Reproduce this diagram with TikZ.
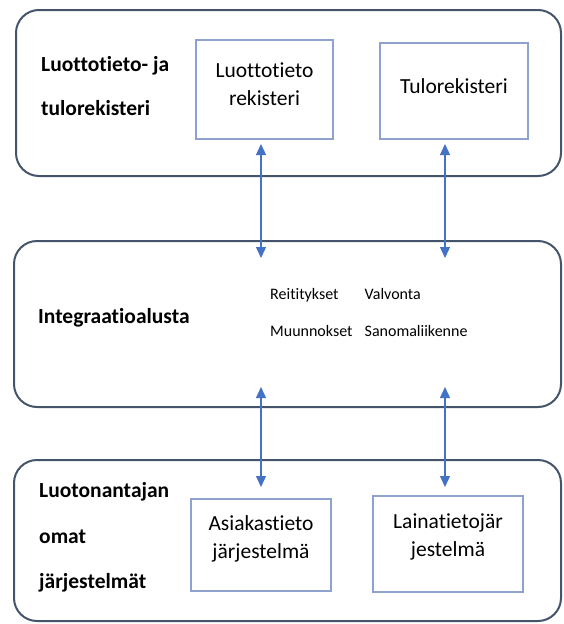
\documentclass[tikz,border=0pt]{standalone}
\usepackage{fontspec}
\setmainfont{Carlito}[Ligatures={NoCommon}]
\usetikzlibrary{arrows.meta}
\definecolor{frame}{HTML}{44546A}
\definecolor{inner}{HTML}{8FA2CF}
\definecolor{link}{HTML}{4472C4}
\tikzset{
  group/.style={draw=frame, line width=2pt, rounded corners=23pt},
  ibox/.style={draw=inner, line width=2pt, inner sep=0pt},
  head/.style={anchor=base west, inner sep=0pt, font=\bfseries\fontsize{21.5}{26}\selectfont},
  boxtext/.style={anchor=base, inner sep=0pt, font=\fontsize{21.5}{26}\selectfont},
  small/.style={anchor=base west, inner sep=0pt, font=\fontsize{16}{19}\selectfont},
  biarrow/.style={draw=link, line width=1.2pt, {Triangle[length=11pt,width=10pt]}-{Triangle[length=11pt,width=10pt]}}
}
\begin{document}
\begin{tikzpicture}[x=1pt, y=-1pt]
  \useasboundingbox (0,0) rectangle (563,624);

  % three layers
  \draw[group] (16,10) rectangle (561,176);
  \draw[group] (14,241) rectangle (561,407);
  \draw[group] (14,460) rectangle (561,621);

  % top layer: registers
  \node[head] (h1a) at (41,71) {Luottotieto- ja};
  \node[head] (h1b) at (41,115) {tulorekisteri};
  \node[ibox, minimum width=137pt, minimum height=99pt] (lr) at (264.5,89.5) {};
  \node[ibox, minimum width=148pt, minimum height=96pt] (tr) at (454,91) {};
  \node[boxtext] (lr1) at (264.5,77) {Luottotieto};
  \node[boxtext] (lr2) at (264.5,105) {rekisteri};
  \node[boxtext] (tr1) at (454,93) {Tulorekisteri};

  % middle layer: integration platform
  \node[head] (h2) at (38,323) {Integraatioalusta};
  \node[small] (s1) at (270,299) {Reititykset};
  \node[small] (s2) at (364.5,299) {Valvonta};
  \node[small] (s3) at (270,336) {Muunnokset};
  \node[small] (s4) at (364.5,336) {Sanomaliikenne};

  % bottom layer: lender's own systems
  \node[head] (h3a) at (39,497) {Luotonantajan};
  \node[head] (h3b) at (39,543) {omat};
  \node[head] (h3c) at (39,588) {järjestelmät};
  \node[ibox, minimum width=140pt, minimum height=92pt] (as) at (261,545) {};
  \node[ibox, minimum width=150pt, minimum height=96pt] (lt) at (448,544) {};
  \node[boxtext] (as1) at (261,530) {Asiakastieto};
  \node[boxtext] (as2) at (261,558) {järjestelmä};
  \node[boxtext] (lt1) at (448,528) {Lainatietojär};
  \node[boxtext] (lt2) at (448,556) {jestelmä};

  % connector end points
  \coordinate (u1) at (261,144);
  \coordinate (m1) at (261,258);
  \coordinate (u2) at (445,144);
  \coordinate (m2) at (445,258);
  \coordinate (m3) at (261,387);
  \coordinate (d1) at (261,487);
  \coordinate (m4) at (445,387);
  \coordinate (d2) at (445,487);

  \draw[biarrow] (u1) -- (m1);
  \draw[biarrow] (u2) -- (m2);
  \draw[biarrow] (m3) -- (d1);
  \draw[biarrow] (m4) -- (d2);
\end{tikzpicture}
\end{document}
